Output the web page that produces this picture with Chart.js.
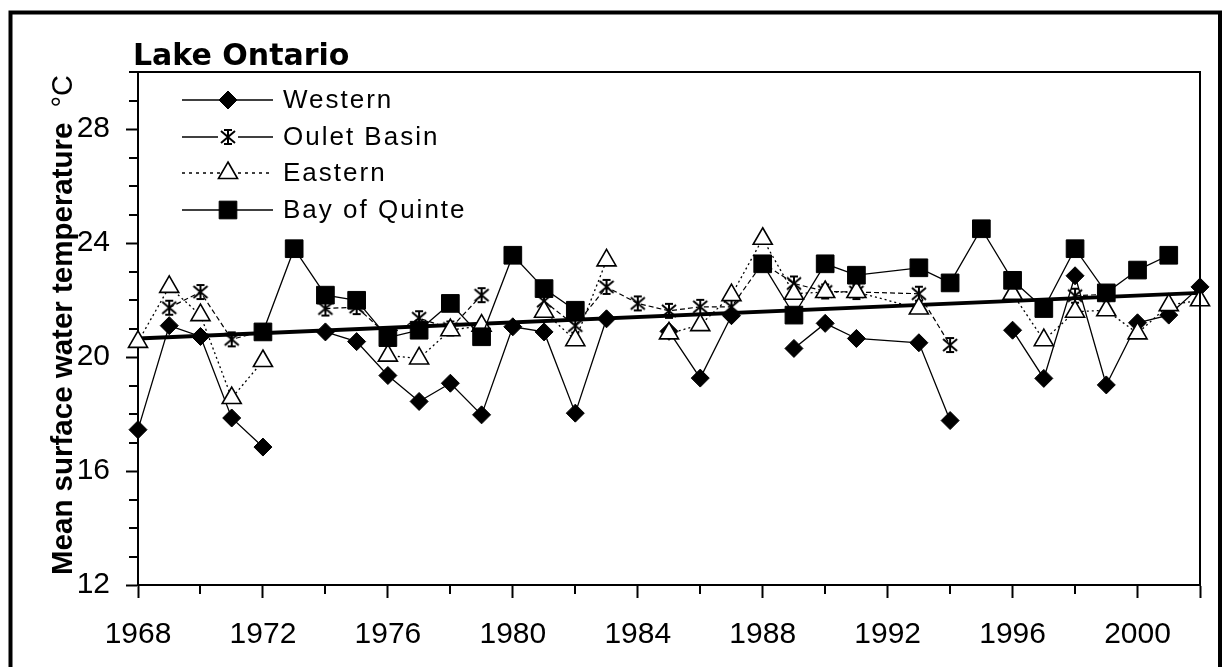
<!DOCTYPE html>
<html><head><meta charset="utf-8">
<script src="https://cdn.jsdelivr.net/npm/chart.js@4.4.1/dist/chart.umd.min.js"></script>
<style>
html,body{margin:0;padding:0;background:#fff;}
canvas{display:block;}
</style></head><body>
<canvas id="c" width="1230" height="667"></canvas>
<script>
// ---- data ----
const titleText = 'Lake Ontario';
const yTitleText = 'Mean surface water temperature';
const yUnitText = '°C';
const seriesNames = ['Western', 'Oulet Basin', 'Eastern', 'Bay of Quinte'];

const westernYears = [1968,1969,1970,1971,1972,1973,1974,1975,1976,1977,1978,1979,1980,1981,1982,1983,1984,1985,1986,1987,1988,1989,1990,1991,1993,1994,1995,1996,1997,1998,1999,2000,2001,2002];
const westernTemps = [17.45,21.1,20.72,17.86,16.84,null,20.88,20.54,19.35,18.44,19.08,17.97,21.06,20.88,18.03,21.34,null,20.9,19.26,21.45,null,20.3,21.18,20.65,20.5,17.77,null,20.94,19.25,22.85,19.02,21.2,21.47,22.46];

const ouletYears = [1969,1970,1971,1972,1973,1974,1975,1976,1977,1978,1979,1980,1981,1982,1983,1984,1985,1986,1987,1988,1989,1990,1991,1993,1994,1995,1998,1999];
const ouletTemps = [21.73,22.28,20.62,20.9,null,21.7,21.75,20.75,21.36,21.0,22.17,null,21.96,21.1,22.46,21.88,21.62,21.76,21.76,23.3,22.58,22.3,22.28,22.22,20.42,null,22.15,22.2];

const easternYears = [1968,1969,1970,1971,1972,1973,1976,1977,1978,1979,1980,1981,1982,1983,1984,1985,1986,1987,1988,1989,1990,1991,1993,1994,1996,1997,1998,1999,2000,2001,2002];
const easternTemps = [20.53,22.46,21.47,18.56,19.86,null,20.05,19.95,20.94,21.1,null,21.59,20.59,23.39,null,20.83,21.12,22.17,24.15,22.22,22.28,22.28,21.7,null,22.22,20.59,21.59,21.64,20.83,21.82,21.99];

const bayYears = [1972,1973,1974,1975,1976,1977,1978,1979,1980,1981,1982,1983,1988,1989,1990,1991,1993,1994,1995,1996,1997,1998,1999,2000,2001];
const bayTemps = [20.88,23.8,22.17,21.99,20.68,20.94,21.88,20.71,23.57,22.4,21.64,null,23.27,21.47,23.27,22.87,23.13,22.6,24.5,22.69,21.7,23.8,22.25,23.05,23.57];

const trendYears = [1968, 2002];
const trendTemps = [20.65, 22.25];

const xMin = 1968, xMax = 2002, xStep = 2, xLabelEvery = 4;
const yMin = 12, yMax = 30, yStep = 1, yLabelEvery = 4;

// ---- helpers ----
const pts = (xs, ys) => xs.map((x, i) => ({x: x, y: ys[i]}));

function makeStar(size, lw) {
  const c = document.createElement('canvas');
  c.width = size; c.height = size;
  const g = c.getContext('2d');
  g.strokeStyle = '#000'; g.lineWidth = lw; g.lineCap = 'butt';
  const m = size / 2, a = 1, b = size - 1;
  g.beginPath();
  g.moveTo(m, a); g.lineTo(m, b);
  g.moveTo(a + 1, a + 2); g.lineTo(b - 1, b - 2);
  g.moveTo(b - 1, a + 2); g.lineTo(a + 1, b - 2);
  g.moveTo(m - 4, a + 1); g.lineTo(m + 4, a + 1);
  g.moveTo(m - 4, b - 1); g.lineTo(m + 4, b - 1);
  g.stroke();
  return c;
}
const star = makeStar(18, 2);

const FONT = '"Liberation Sans", Arial, sans-serif';

const datasets = [
  {label: seriesNames[3], data: pts(bayYears, bayTemps), borderColor: '#000', borderWidth: 1.3,
   pointStyle: 'rect', pointRadius: 12.5, pointBackgroundColor: '#000', pointBorderColor: '#000', pointBorderWidth: 1, order: 0},
  {label: seriesNames[2], data: pts(easternYears, easternTemps), borderColor: '#000', borderWidth: 1.3, borderDash: [2, 3],
   pointStyle: 'triangle', pointRadius: 11, pointBackgroundColor: '#fff', pointBorderColor: '#000', pointBorderWidth: 1.6, order: 1},
  {label: 'trend', data: pts(trendYears, trendTemps), borderColor: '#000', borderWidth: 4, pointRadius: 0, order: 2},
  {label: seriesNames[1], data: pts(ouletYears, ouletTemps), borderColor: '#000', borderWidth: 1.2, borderDash: [5, 3],
   pointStyle: star, order: 3},
  {label: seriesNames[0], data: pts(westernYears, westernTemps), borderColor: '#000', borderWidth: 1.3,
   pointStyle: 'rectRot', pointRadius: 9, pointBackgroundColor: '#000', pointBorderColor: '#000', pointBorderWidth: 1, order: 4}
];
datasets.forEach(d => { d.clip = false; d.tension = 0; d.fill = false; });

const legendRows = [
  {name: seriesNames[0], ds: datasets[4], dash: []},
  {name: seriesNames[1], ds: datasets[3], dash: []},
  {name: seriesNames[2], ds: datasets[1], dash: [3, 4]},
  {name: seriesNames[3], ds: datasets[0], dash: []}
];

const majorTick = (v, every) => v % every === 0;

const decor = {
  id: 'decor',
  afterDraw(chart) {
    const ctx = chart.ctx, ca = chart.chartArea;
    const xs = chart.scales.x, ys = chart.scales.y;
    ctx.save();
    // minor ticks (shorter)
    ctx.strokeStyle = '#000'; ctx.lineWidth = 2;
    ctx.beginPath();
    xs.ticks.forEach(t => {
      if (!majorTick(t.value, xLabelEvery) && t.value !== xMax) {
        const px = Math.round(xs.getPixelForValue(t.value));
        ctx.moveTo(px, ca.bottom); ctx.lineTo(px, ca.bottom + 9);
      }
    });
    ys.ticks.forEach(t => {
      if (!majorTick(t.value, yLabelEvery)) {
        const py = Math.round(ys.getPixelForValue(t.value));
        ctx.moveTo(ca.left, py); ctx.lineTo(ca.left - 9, py);
      }
    });
    ctx.stroke();
    // plot frame (top & right)
    ctx.beginPath();
    ctx.moveTo(ca.left - 9, ca.top); ctx.lineTo(ca.right, ca.top); ctx.lineTo(ca.right, ca.bottom);
    ctx.stroke();
    // outer frame
    ctx.lineWidth = 4;
    ctx.beginPath();
    ctx.moveTo(10.5, 690); ctx.lineTo(10.5, 12.5); ctx.lineTo(1220, 12.5); ctx.lineTo(1220, 690);
    ctx.stroke();
    // title
    ctx.fillStyle = '#000';
    ctx.font = 'bold 30px "DejaVu Sans", sans-serif';
    ctx.textBaseline = 'alphabetic'; ctx.textAlign = 'left';
    ctx.fillText(titleText, 133, 65);
    // y title
    ctx.save();
    ctx.translate(72, 575);
    ctx.rotate(-Math.PI / 2);
    ctx.font = 'bold 29.5px ' + FONT;
    ctx.fillText(yTitleText, 0, 0);
    const w = ctx.measureText(yTitleText).width;
    ctx.font = '29px ' + FONT;
    ctx.fillText(yUnitText, w + 15, 0);
    ctx.restore();
    // legend
    const rowY = [100, 137, 173, 210];
    legendRows.forEach((r, i) => {
      const y = rowY[i], ds = r.ds;
      ctx.save();
      ctx.strokeStyle = '#000'; ctx.lineWidth = 1.5;
      ctx.setLineDash(r.dash);
      ctx.beginPath(); ctx.moveTo(182, y); ctx.lineTo(273, y); ctx.stroke();
      ctx.setLineDash([]);
      ctx.fillStyle = ds.pointBackgroundColor || '#000';
      ctx.strokeStyle = ds.pointBorderColor || '#000';
      ctx.lineWidth = ds.pointBorderWidth || 1;
      if (ds.pointStyle instanceof HTMLCanvasElement) {
        ctx.fillStyle = '#fff';
        ctx.fillRect(228 - 10, y - 10, 20, 20);
      }
      Chart.helpers.drawPoint(ctx, {pointStyle: ds.pointStyle, radius: ds.pointRadius || 8, rotation: 0, borderWidth: ctx.lineWidth}, 228, y);
      ctx.restore();
      ctx.save();
      ctx.fillStyle = '#000';
      ctx.font = '26px ' + FONT;
      try { ctx.letterSpacing = '2px'; } catch (e) {}
      ctx.textBaseline = 'middle'; ctx.textAlign = 'left';
      ctx.fillText(r.name, 283, y + 1);
      ctx.restore();
    });
    ctx.restore();
  }
};

new Chart(document.getElementById('c'), {
  type: 'line',
  data: {datasets: datasets},
  options: {
    responsive: false, animation: false, devicePixelRatio: 1,
    layout: {padding: {top: 72, right: 30, left: 0, bottom: 0}, autoPadding: false},
    plugins: {legend: {display: false}, title: {display: false}, tooltip: {enabled: false}},
    scales: {
      x: {
        type: 'linear', min: xMin, max: xMax,
        afterFit: s => { s.height = 82; },
        ticks: {stepSize: xStep, autoSkip: false, maxRotation: 0, color: '#000', padding: 19,
          font: {family: FONT, size: 30},
          callback: v => (majorTick(v, xLabelEvery) ? String(v) : '')},
        grid: {drawOnChartArea: false, drawTicks: true, tickLength: 13, tickWidth: 2,
          tickColor: c => (c.tick && (majorTick(c.tick.value, xLabelEvery) || c.tick.value === xMax) ? '#000' : 'rgba(0,0,0,0)')},
        border: {color: '#000', width: 2}
      },
      y: {
        type: 'linear', min: yMin, max: yMax,
        afterFit: s => { s.width = 138; },
        ticks: {stepSize: yStep, autoSkip: false, color: '#000', padding: 16,
          font: {family: FONT, size: 30},
          callback: v => (majorTick(v, yLabelEvery) ? String(v) : '')},
        grid: {drawOnChartArea: false, drawTicks: true, tickLength: 12, tickWidth: 2,
          tickColor: c => (c.tick && majorTick(c.tick.value, yLabelEvery) ? '#000' : 'rgba(0,0,0,0)')},
        border: {color: '#000', width: 2}
      }
    }
  },
  plugins: [decor]
});
</script>
</body></html>
